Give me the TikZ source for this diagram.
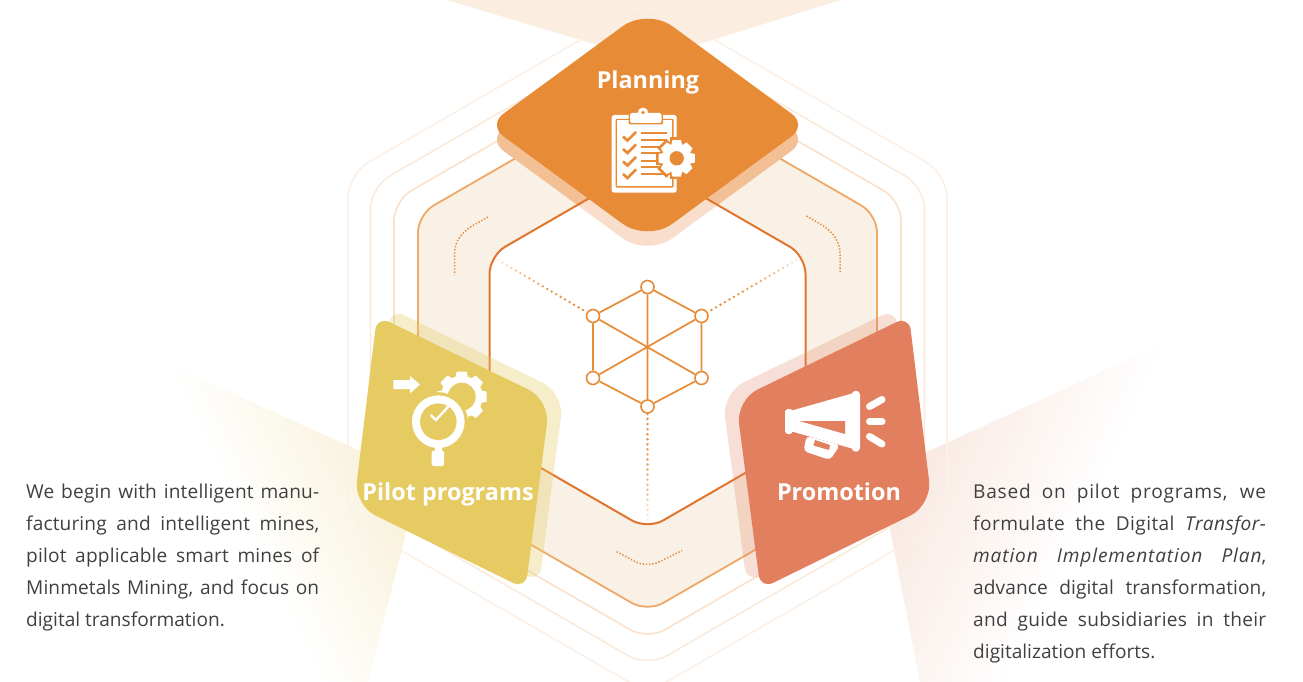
\documentclass[tikz,border=0pt]{standalone}
\usepackage{fontspec}
\setmainfont{Open Sans}
\usetikzlibrary{calc}
\definecolor{cPlan}{HTML}{E88B37}
\definecolor{cPilot}{HTML}{E6CB63}
\definecolor{cPromo}{HTML}{E27F5E}
\definecolor{cInner}{HTML}{E2752D}
\definecolor{cBand}{HTML}{F9F1E6}
\definecolor{cBandLine}{HTML}{EFA866}
\definecolor{cHexA}{HTML}{F9E1CC}
\definecolor{cHexB}{HTML}{FBEBDC}
\definecolor{cHexC}{HTML}{FDF1E7}
\definecolor{cFanTop}{HTML}{FBEDE0}
\definecolor{cFanL}{HTML}{F9F3DE}
\definecolor{cFanR}{HTML}{F9EAE3}
\definecolor{cShadeD}{HTML}{F2C094}
\definecolor{cShadeL}{HTML}{F9DFCB}
\definecolor{cText}{HTML}{404040}
\newcommand{\hexa}[1]{(647.5,{347-#1*1.1547}) -- ({647.5+#1},{347-#1*0.57735}) -- ({647.5+#1},{347+#1*0.57735}) -- (647.5,{347+#1*1.1547}) -- ({647.5-#1},{347+#1*0.57735}) -- ({647.5-#1},{347-#1*0.57735}) -- cycle}
% rounded quadrilateral: vertices A B C D; A and C cut by #5, B and D cut by #6
\newcommand{\rquad}[6]{($(#1)!#5pt!(#2)$) -- ($(#2)!#6pt!(#1)$) .. controls ($(#2)!{#6*0.4477*1pt}!(#1)$) and ($(#2)!{#6*0.4477*1pt}!(#3)$) .. ($(#2)!#6pt!(#3)$) -- ($(#3)!#5pt!(#2)$) .. controls ($(#3)!{#5*0.4477*1pt}!(#2)$) and ($(#3)!{#5*0.4477*1pt}!(#4)$) .. ($(#3)!#5pt!(#4)$) -- ($(#4)!#6pt!(#3)$) .. controls ($(#4)!{#6*0.4477*1pt}!(#3)$) and ($(#4)!{#6*0.4477*1pt}!(#1)$) .. ($(#4)!#6pt!(#1)$) -- ($(#1)!#5pt!(#4)$) .. controls ($(#1)!{#5*0.4477*1pt}!(#4)$) and ($(#1)!{#5*0.4477*1pt}!(#2)$) .. cycle}
% gear: centre, body radius, tip radius, tooth half width, colour
\newcommand{\gearshape}[5]{\fill[#5] (#1) circle (#2pt);
 \foreach \ga in {0,45,...,315} {\fill[#5,shift={(#1)},rotate=\ga] (#3,-#4) -- (#3,#4) -- (#2-1,#4+1.2) -- (#2-1,-#4-1.2) -- cycle;}}
\newcommand{\spaced}[2]{\hbox to 293pt{\addfontfeature{LetterSpace=#1}#2}}
\tikzset{
 x=1pt,y=-1pt,
 cardtitle/.style={text=white,font=\bfseries\fontsize{23.4}{26}\selectfont,inner sep=0pt,anchor=base},
 hexnode/.style={circle,draw=cPlan,fill=white,line width=1.6pt,minimum size=13pt,inner sep=0pt},
 netline/.style={draw=cPlan,line width=1.7pt},
 dotarc/.style={draw=cPlan,line width=1.5pt,dash pattern=on 1.4pt off 1.8pt},
 bodytext/.style={anchor=base west,inner sep=0pt,text=cText,font=\fontsize{19.1}{32}\selectfont}
}
\begin{document}
\begin{tikzpicture}
\useasboundingbox (0,0) rectangle (1303,682);
\fill[white] (0,0) rectangle (1303,682);
% fans
\fill[cFanTop] (447,0) -- (841,0) -- (647.5,60) -- cycle;
\begin{scope}
 \clip (163,362) -- (420,478) -- (368,682) -- (163,682) -- cycle;
 \begin{scope}[transform canvas={shift={(163,362)},rotate=26.3}]
  \shade[left color=white,right color=cFanL] (0,-700) rectangle (135,700);
  \fill[cFanL] (134.5,-700) rectangle (600,700);
 \end{scope}
\end{scope}
\begin{scope}
 \clip (1167,342) -- (879,474) -- (920,682) -- (1167,682) -- cycle;
 \begin{scope}[transform canvas={shift={(1167,342)},rotate=154.8}]
  \shade[left color=white,right color=cFanR] (0,-700) rectangle (170,700);
  \fill[cFanR] (169.5,-700) rectangle (600,700);
 \end{scope}
\end{scope}
% outer hexagons
\draw[cHexC,line width=1.6pt,rounded corners=24pt] \hexa{299.5};
\draw[cHexB,line width=1.6pt,rounded corners=22pt] \hexa{277};
\draw[cHexA,line width=1.6pt,rounded corners=20pt] \hexa{253.5};
\filldraw[fill=cBand,draw=cBandLine,line width=1.8pt,rounded corners=18pt] \hexa{229.5};
% planning shadows
\coordinate (dT1) at (647.5,22.5); \coordinate (dR1) at (807,139.5); \coordinate (dB1) at (647.5,256.5); \coordinate (dL1) at (488,139.5);
\coordinate (dT) at (647.5,8); \coordinate (dR) at (807,125); \coordinate (dB) at (647.5,242); \coordinate (dL) at (488,125);
\fill[cShadeD] \rquad{dT1}{dR1}{dB1}{dL1}{31}{19};
\fill[white,rounded corners=18pt] \hexa{158};
\begin{scope}
 \clip[rounded corners=18pt] \hexa{158};
 \fill[cShadeL] \rquad{dT1}{dR1}{dB1}{dL1}{31}{19};
\end{scope}
\draw[cInner,line width=2pt,rounded corners=18pt] \hexa{158};
% dotted spokes
\coordinate (sa1) at (583,310); \coordinate (sa2) at (498,260);
\coordinate (sb1) at (711.5,310); \coordinate (sb2) at (796.5,260);
\coordinate (sc1) at (647.5,414); \coordinate (sc2) at (647.5,520);
\foreach \s/\e/\n in {sa1/sa2/19,sb1/sb2/19,sc1/sc2/21} {
 \foreach \k in {0,...,\n} {
  \pgfmathsetmacro{\tt}{\k/\n}
  \pgfmathsetmacro{\mixv}{100*(1-\tt*\tt*0.85)}
  \fill[cPlan!\mixv!white] ($(\s)!\tt!(\e)$) circle (1.35pt);
 }
}
% dotted arcs in band
\coordinate (a1) at (488,217); \coordinate (a2) at (454.6,275);
\coordinate (b1) at (806.4,216); \coordinate (b2) at (840,273);
\coordinate (c1) at (616.7,551.7); \coordinate (c2) at (682,550.7);
\draw[dotarc] (a1) -- (472,226) .. controls (460,234) and (454.6,242) .. (454.6,254) -- (a2);
\draw[dotarc] (b1) -- (822,225) .. controls (834,233) and (840,242) .. (840,254) -- (b2);
\draw[dotarc] (c1) -- (634,561) .. controls (642,565.5) and (653,565.5) .. (661,561) -- (c2);
% central network
\node[hexnode] (n1) at (647.5,287) {};
\node[hexnode] (n2) at (701.5,316) {};
\node[hexnode] (n3) at (701.5,378) {};
\node[hexnode] (n4) at (647.5,406.5) {};
\node[hexnode] (n5) at (593,378) {};
\node[hexnode] (n6) at (593,316) {};
\draw[netline] (n1) -- (n2) -- (n3) -- (n4) -- (n5) -- (n6) -- (n1);
\draw[netline] (n1) -- (n4) (n2) -- (n5) (n3) -- (n6);
% planning diamond
\fill[cPlan] \rquad{dT}{dR}{dB}{dL}{31}{19};
\node[cardtitle] (plan) at (648,88.3) {Planning};
% clipboard icon
\fill[white,rounded corners=2.5pt] (611.7,115) rectangle (676.7,192.7);
\fill[cPlan,rounded corners=1pt] (615.5,119) rectangle (673.5,187.5);
\fill[white] (617,120.5) rectangle (672,186);
\fill[cPlan,rounded corners=2pt] (628.5,111.5) rectangle (663,124.5);
\fill[white,rounded corners=2pt] (630,113) rectangle (661.5,123);
\fill[white] (643,113) circle (5.4pt);
\fill[cPlan] (643,112.5) circle (1.9pt);
\foreach \cy in {136.5,149,161.5,174} {
 \draw[cPlan,line width=2.7pt] (623,\cy) -- (627.5,{\cy+4}) -- (636,{\cy-4.5});
}
\foreach \ly in {132.7,140,146.7,153.3,160.7,167.3,174} {
 \fill[cPlan] (640.7,{\ly-1}) rectangle (667,{\ly+1});
}
\fill[cPlan] (676.7,158.3) circle (17.5pt);
\foreach \ga in {0,45,...,315} {\fill[cPlan,shift={(676.7,158.3)},rotate=\ga] (21,-6.5) rectangle (10,6.5);}
\coordinate (g1) at (676.7,158.3);
\gearshape{g1}{14.5}{18.2}{4.2}{white}
\fill[cPlan] (g1) circle (7.2pt);
% promo and pilot shadows / cards
\coordinate (p1) at (377,316); \coordinate (p2) at (550,400); \coordinate (p3) at (525.5,589); \coordinate (p4) at (354,505);
\coordinate (ps1) at (391,309); \coordinate (ps2) at (564,393); \coordinate (ps3) at (539.5,582); \coordinate (ps4) at (368,498);
\fill[cPilot,opacity=0.33] \rquad{ps1}{ps2}{ps3}{ps4}{14}{24};
\fill[cPilot] \rquad{p1}{p2}{p3}{p4}{14}{24};
\coordinate (q1) at (909,316); \coordinate (q2) at (736,400); \coordinate (q3) at (760.5,589); \coordinate (q4) at (932,505);
\coordinate (qs1) at (895,309); \coordinate (qs2) at (722,393); \coordinate (qs3) at (746.5,582); \coordinate (qs4) at (918,498);
\fill[cPromo,opacity=0.25] \rquad{qs1}{qs2}{qs3}{qs4}{14}{24};
\fill[cPromo] \rquad{q1}{q2}{q3}{q4}{14}{24};
\node[cardtitle] (pilot) at (448,500.7) {Pilot programs};
\node[cardtitle] (promo) at (839,500.7) {Promotion};
% pilot icon
\fill[white] (393.3,380) -- (410,380) -- (410,376) -- (420,384.5) -- (410,393.3) -- (410,389) -- (393.3,389) -- cycle;
\coordinate (g2) at (461.7,396.7);
\gearshape{g2}{21}{25}{5}{white}
\fill[cPilot] (g2) circle (14pt);
\fill[cPilot] (438.3,421.7) circle (29.5pt);
\fill[white] (438.3,421.7) circle (26.3pt);
\fill[cPilot] (438.3,421.7) circle (18.3pt);
\draw[white,line width=2.4pt] (430.7,415) -- (436,420) -- (449,405.7);
\fill[white] (435,447) rectangle (442,452);
\fill[white,rounded corners=1.5pt] (431.7,450.7) rectangle (444,466);
% promotion icon
\fill[white] (792,410.5) -- (852,393.5) -- (852,448.5) -- (792,431.5) -- cycle;
\fill[white,rounded corners=3pt] (785,409) rectangle (792.7,434);
\fill[white,rounded corners=4pt] (851.7,390.7) rectangle (860,451.7);
\fill[white,rounded corners=4pt] (806.5,436) -- (803.5,451) -- (830,460) -- (840,445) -- cycle;
\fill[cPromo] (799.3,421) -- (845,421) -- (845,434) -- cycle;
\fill[cPromo] (815,440) -- (830,445) -- (829,450) -- (813.5,445.5) -- cycle;
\draw[white,line width=7pt,line cap=round] (869.5,406.5) -- (882,399.5);
\draw[white,line width=7pt,line cap=round] (869.5,421.3) -- (882,421.3);
\draw[white,line width=7pt,line cap=round] (869.5,436.5) -- (882,444);
% texts
\node[bodytext] (lefttext) at (26,498.4) {\vtop{\baselineskip=31.9pt
 \spaced{0.9}{We begin with intelligent manu-}
 \spaced{0.7}{facturing and intelligent mines,}
 \spaced{0.9}{pilot applicable smart mines of}
 \spaced{0.5}{Minmetals Mining, and focus on}
 \hbox{digital transformation.}}};
\node[bodytext] (righttext) at (973,498.4) {\vtop{\baselineskip=32pt
 \spaced{4.0}{Based on pilot programs, we}
 \spaced{2.2}{formulate the Digital \textit{Transfor-}}
 \spaced{4.5}{\textit{mation Implementation Plan},}
 \spaced{0.5}{advance digital transformation,}
 \spaced{1.4}{and guide subsidiaries in their}
 \hbox{digitalization efforts.}}};
\end{tikzpicture}
\end{document}
